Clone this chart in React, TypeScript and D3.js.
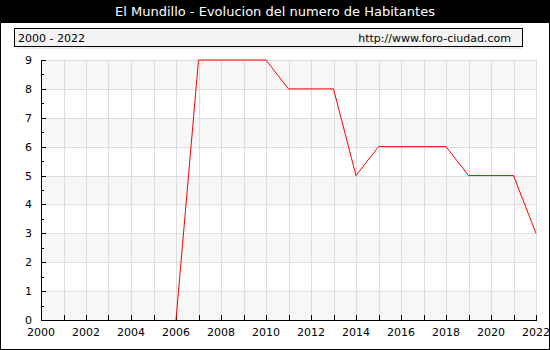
import React from "react";
import * as d3 from "d3";

const title = "El Mundillo - Evolucion del numero de Habitantes";
const periodLabel = "2000 - 2022";
const sourceLabel = "http://www.foro-ciudad.com";
const years = [2006, 2007, 2008, 2009, 2010, 2011, 2012, 2013, 2014, 2015, 2016, 2017, 2018, 2019, 2020, 2021, 2022];
const habitantes = [0, 9, 9, 9, 9, 8, 8, 8, 5, 6, 6, 6, 6, 5, 5, 5, 3];
const xTicks = [2000, 2002, 2004, 2006, 2008, 2010, 2012, 2014, 2016, 2018, 2020, 2022];
const yTicks = [0, 1, 2, 3, 4, 5, 6, 7, 8, 9];

const W = 550;
const H = 350;
const FONT = "DejaVu Sans, Verdana, sans-serif";

export default function App() {
  const x = d3.scaleLinear().domain([2000, 2022]).range([41, 536]);
  const y = d3.scaleLinear().domain([0, 9]).range([320, 60]);
  const allYears = d3.range(2000, 2023);
  const halfTicks = d3.range(0.5, 9, 1);
  const line = d3
    .line<number>()
    .x((_, i) => x(years[i]))
    .y((d) => y(d));
  const pts = habitantes;
  return (
    <svg
      width={W}
      height={H}
      style={{ position: "absolute", left: 0, top: 0 }}
      fontFamily={FONT}
    >
      <rect x={0} y={0} width={W} height={H} fill="#fff" />
      <rect x={0.5} y={0.5} width={W - 1} height={H - 1} fill="none" stroke="#000" />
      <rect x={0} y={0} width={W} height={23} fill="#000" />
      <text x={W / 2} y={16} textAnchor="middle" fill="#fff" fontSize={13}>
        {title}
      </text>
      {/* header box */}
      <rect x={17} y={46} width={506} height={3} fill="#eeeeee" />
      <rect x={14.5} y={28.5} width={508} height={18} fill="#f4f4f4" stroke="#000" />
      <text x={18} y={41.5} fontSize={11} fill="#000">
        {periodLabel}
      </text>
      <text x={511} y={41.5} fontSize={11} fill="#000" textAnchor="end">
        {sourceLabel}
      </text>
      {/* bands */}
      {yTicks.slice(0, -1).map((t) =>
        t % 2 === 0 ? (
          <rect key={"b" + t} x={x(2000)} y={y(t + 1)} width={x(2022) - x(2000)} height={y(t) - y(t + 1)} fill="#f7f7f7" />
        ) : null
      )}
      {/* grid */}
      {allYears.map((yr) => (
        <line key={"gx" + yr} x1={Math.round(x(yr)) + 0.5} x2={Math.round(x(yr)) + 0.5} y1={y(9)} y2={y(0)} stroke="#dddddd" />
      ))}
      {yTicks.map((t) => (
        <line key={"gy" + t} x1={x(2000)} x2={x(2022)} y1={Math.round(y(t)) + 0.5} y2={Math.round(y(t)) + 0.5} stroke="#dddddd" />
      ))}
      {/* axes */}
      <line x1={x(2000) + 0.5} x2={x(2000) + 0.5} y1={y(9)} y2={y(0) + 1} stroke="#000" />
      <line x1={x(2000)} x2={x(2022) + 1} y1={Math.round(y(0)) + 0.5} y2={Math.round(y(0)) + 0.5} stroke="#000" />
      {yTicks.map((t) => (
        <line key={"ty" + t} x1={x(2000)} x2={x(2000) + 5} y1={Math.round(y(t)) + 0.5} y2={Math.round(y(t)) + 0.5} stroke="#000" />
      ))}
      {halfTicks.map((t) => (
        <line key={"th" + t} x1={x(2000)} x2={x(2000) + 3} y1={Math.round(y(t)) + 0.5} y2={Math.round(y(t)) + 0.5} stroke="#000" />
      ))}
      {allYears.map((yr) => (
        <line key={"tx" + yr} x1={Math.round(x(yr)) + 0.5} x2={Math.round(x(yr)) + 0.5} y1={y(0)} y2={y(0) - 5} stroke="#000" />
      ))}
      {yTicks.map((t) => (
        <text key={"ly" + t} x={32} y={y(t) + 4} fontSize={11} textAnchor="end" fill="#000">
          {t}
        </text>
      ))}
      {xTicks.map((t) => (
        <text key={"lx" + t} x={x(t)} y={336} fontSize={11} textAnchor="middle" fill="#000">
          {t}
        </text>
      ))}
      <path d={line(pts) || ""} fill="none" stroke="#ff0000" strokeWidth={1} />
    </svg>
  );
}
